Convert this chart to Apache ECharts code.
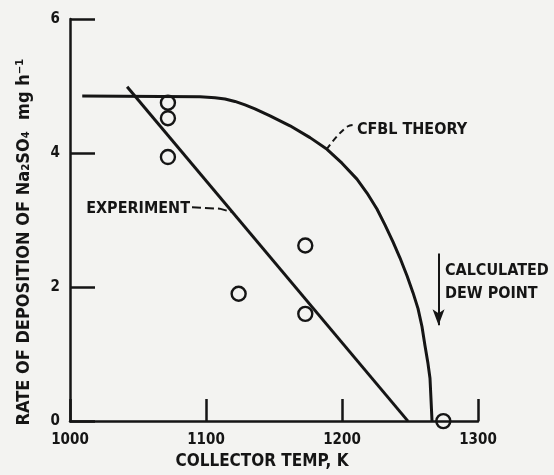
<!DOCTYPE html>
<html><head><meta charset="utf-8">
<script src="https://cdn.jsdelivr.net/npm/echarts@6/dist/echarts.min.js"></script>
<style>html,body{margin:0;padding:0;background:#f3f3f1}#c{width:554px;height:475px}</style>
</head><body><div id="c"></div>
<script>
// ---- data ----
const xTickValues = [1000, 1100, 1200, 1300];
const yTickValues = [0, 2, 4, 6];
const xTitle = 'COLLECTOR TEMP, K';
const yTitle = 'RATE OF DEPOSITION OF Na\u2082SO\u2084  mg h\u207B\u00B9';

const theoryT = [1009, 1095.6, 1106.6, 1114.0, 1121.3, 1128.7, 1136.0, 1147.1, 1161.8, 1176.5, 1189.0, 1200.0,
                 1211.0, 1218.4, 1225.7, 1231.6, 1237.5, 1242.6, 1247.8, 1252.2, 1255.9, 1258.8, 1261.0,
                 1263.2, 1264.7, 1265.4, 1266.2];
const theoryV = [4.85, 4.84, 4.825, 4.807, 4.77, 4.718, 4.659, 4.555, 4.406, 4.23, 4.056, 3.848,
                 3.611, 3.403, 3.165, 2.927, 2.675, 2.437, 2.169, 1.917, 1.679, 1.412, 1.129,
                 0.862, 0.639, 0.342, 0];

const expT = [1042, 1248.5];
const expV = [4.99, 0];

const obsT = [1072, 1072, 1072, 1173, 1124, 1173, 1274.5];
const obsV = [4.75, 4.52, 3.94, 2.62, 1.90, 1.60, 0];

const dewT = [1271, 1271];
const dewV = [2.50, 1.43];

const theoryLeaderT = [1188.8, 1204.4, 1209.6];
const theoryLeaderV = [4.06, 4.40, 4.42];
const expLeaderT = [1089.7, 1110, 1119];
const expLeaderV = [3.19, 3.17, 3.12];

const annoText = ['CFBL THEORY', 'EXPERIMENT', 'CALCULATED\nDEW POINT'];
const annoT = [1211, 1088.2, 1275.7];
const annoV = [4.35, 3.165, 2.07];
const annoAlign = ['left', 'right', 'left'];

// ---- chart ----
const INK = '#151515';
const FONT = "'Liberation Sans Narrow','DejaVu Sans Condensed','DejaVu Sans',sans-serif";
const zip = (a, b) => a.map((v, i) => [v, b[i]]);
const chart = echarts.init(document.getElementById('c'), null, {renderer: 'canvas'});

const option = {
  backgroundColor: '#f3f3f1',
  animation: false,
  grid: {left: 70, top: 19, width: 408, height: 404},
  xAxis: {
    type: 'value', min: xTickValues[0], max: xTickValues[xTickValues.length - 1], interval: 100,
    axisLine: {lineStyle: {color: INK, width: 2.5}},
    axisTick: {inside: true, length: 22, lineStyle: {color: INK, width: 2.5}},
    splitLine: {show: false},
    axisLabel: {color: INK, fontFamily: FONT, fontWeight: 'bold', fontSize: 15, margin: 12,
      formatter: v => String(v)},
    name: xTitle, nameLocation: 'middle', nameGap: 31,
    nameTextStyle: {color: INK, fontFamily: FONT, fontWeight: 'bold', fontSize: 17, padding: [0, 24, 0, 0]}
  },
  yAxis: {
    type: 'value', min: yTickValues[0], max: yTickValues[yTickValues.length - 1], interval: 2,
    axisLine: {lineStyle: {color: INK, width: 2.5}},
    axisTick: {inside: true, length: 25, lineStyle: {color: INK, width: 2.5}},
    splitLine: {show: false},
    axisLabel: {color: INK, fontFamily: FONT, fontWeight: 'bold', fontSize: 15, margin: 10,
      formatter: v => String(v)},
    name: yTitle, nameLocation: 'middle', nameGap: 37, nameRotate: 90,
    nameTextStyle: {color: INK, fontFamily: FONT, fontWeight: 'bold', fontSize: 18, padding: [0, 44, 0, 0]}
  },
  series: [
    {type: 'line', data: zip(theoryT, theoryV), showSymbol: false, smooth: false,
     lineStyle: {color: INK, width: 3, join: 'round'}, z: 3},
    {type: 'line', data: zip(expT, expV), showSymbol: false, lineStyle: {color: INK, width: 3}, z: 3},
    {type: 'line', data: zip(theoryLeaderT, theoryLeaderV), showSymbol: false, smooth: 0.4,
     lineStyle: {color: INK, width: 2, type: [6, 4]}},
    {type: 'line', data: zip(expLeaderT, expLeaderV), showSymbol: false,
     lineStyle: {color: INK, width: 2, type: [9, 4]}},
    {type: 'scatter', data: zip(obsT, obsV), symbol: 'circle', symbolSize: 14,
     itemStyle: {color: 'rgba(0,0,0,0)', borderColor: INK, borderWidth: 2.4, opacity: 1}, z: 4},
    {type: 'line', data: [], silent: true,
     markLine: {silent: true, symbol: ['none', 'arrow'], symbolSize: [9, 16], label: {show: false},
       lineStyle: {color: INK, width: 2, type: 'solid'},
       data: [[{coord: [dewT[0], dewV[0]]}, {coord: [dewT[1], dewV[1]]}]]}},
    {type: 'scatter', data: annoText.map((t, i) => ({value: [annoT[i], annoV[i]], name: t,
       label: {align: annoAlign[i]}})),
     symbolSize: 0, silent: true, itemStyle: {opacity: 1},
     label: {show: true, position: 'inside', formatter: p => p.name, color: INK, fontFamily: FONT,
       fontWeight: 'bold', fontSize: 16, lineHeight: 23, verticalAlign: 'middle'}}
  ]
};
chart.setOption(option);
</script></body></html>
